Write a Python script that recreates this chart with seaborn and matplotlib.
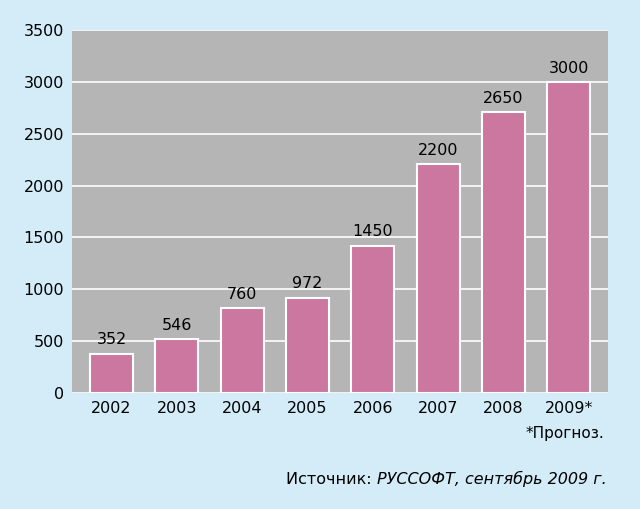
import matplotlib
matplotlib.use("Agg")
import matplotlib.pyplot as plt
import seaborn as sns
import pandas as pd

years = ["2002", "2003", "2004", "2005", "2006", "2007", "2008", "2009*"]
values = [352, 546, 760, 972, 1450, 2200, 2650, 3000]
bar_heights = [380, 520, 820, 920, 1420, 2210, 2710, 3000]  # as drawn

df = pd.DataFrame({"year": years, "height": bar_heights})

fig = plt.figure(figsize=(6.4, 5.09), dpi=100, facecolor="#d3ecf8")
ax = fig.add_axes([0.113, 0.228, 0.837, 0.713])
ax.set_facecolor("#b5b5b5")

sns.barplot(data=df, x="year", y="height", color="#cc77a0", width=0.66,
            edgecolor="white", linewidth=1.5, saturation=1, ax=ax, zorder=3)

for i, v in enumerate(values):
    ax.text(i, bar_heights[i] + 60, str(v), ha="center", va="bottom",
            fontsize=11.5, zorder=4)

ax.set_ylim(0, 3500)
ax.set_xlim(-0.6, 7.6)
ax.set_yticks(range(0, 3501, 500))
ax.yaxis.grid(True, color="white", linewidth=1.2, zorder=0)
ax.set_axisbelow(True)
for s in ax.spines.values():
    s.set_visible(False)
ax.tick_params(length=0, labelsize=11.5, pad=6)
ax.set_xlabel("")
ax.set_ylabel("")

fig.text(0.945, 0.14, "*Прогноз.", ha="right", fontsize=11)
src = fig.text(0.948, 0.05, "РУССОФТ, сентябрь 2009 г.", ha="right", fontsize=11.5,
               style="italic")
fig.canvas.draw()
bb = src.get_window_extent(fig.canvas.get_renderer())
fig.text(bb.x0 / fig.bbox.width, 0.05, "Источник: ", ha="right", fontsize=11.5)

fig.savefig("out.png", dpi=100, facecolor=fig.get_facecolor())
